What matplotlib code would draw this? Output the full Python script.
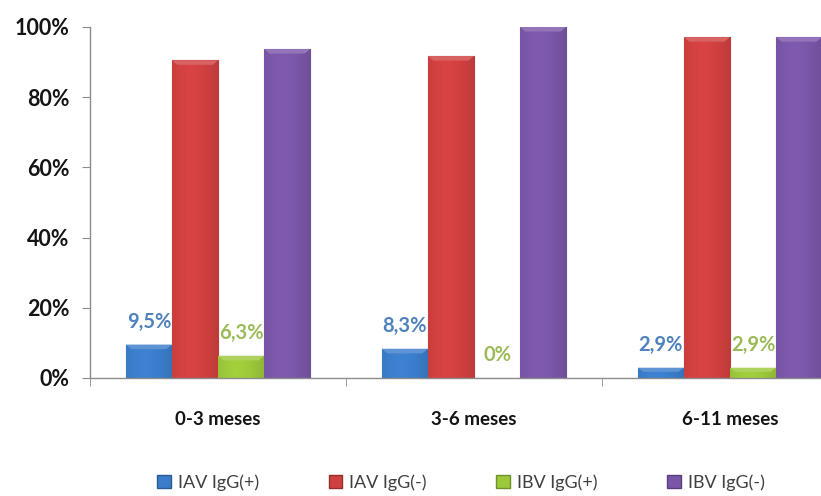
import numpy as np
import matplotlib
matplotlib.use("Agg")
import matplotlib.pyplot as plt
from matplotlib.patches import Patch, Polygon
from matplotlib.colors import to_rgb

categories = ["0-3 meses", "3-6 meses", "6-11 meses"]
series_names = ["IAV IgG(+)", "IAV IgG(-)", "IBV IgG(+)", "IBV IgG(-)"]
iav_pos = [9.5, 8.3, 2.9]
iav_neg = [90.5, 91.7, 97.1]
ibv_pos = [6.3, 0.0, 2.9]
ibv_neg = [93.7, 100.0, 97.1]
yticks = [0, 20, 40, 60, 80, 100]

values = [iav_pos, iav_neg, ibv_pos, ibv_neg]
colors = ["#3B7DCB", "#D04040", "#9CC83A", "#7B56A8"]
label_colors = {0: "#4F81BD", 2: "#9BBB59"}

plt.rcParams["font.family"] = ["Lato", "DejaVu Sans"]

fig = plt.figure(figsize=(8.21, 4.96), dpi=100)
ax = fig.add_axes([0.1096, 0.238, 0.9354, 0.7077])

x = np.arange(len(categories))
width = 0.18
offsets = (np.arange(4) - 1.5) * width


def shade(c, f):
    r, g, b = to_rgb(c)
    if f < 1:
        return (r * f, g * f, b * f)
    return tuple(v + (1 - v) * (f - 1) for v in (r, g, b))


for i, (vals, col) in enumerate(zip(values, colors)):
    bars = ax.bar(x + offsets[i], vals, width, color=col,
                  edgecolor=shade(col, 0.72), linewidth=0.8, zorder=2)
    # soft horizontal gradient inside each bar
    grad = np.linspace(0, 1, 64)
    prof = 1.04 - 0.3 * np.abs(grad - 0.4) ** 1.6
    base = np.array(to_rgb(col))
    img = np.clip(base[None, None, :] * prof[None, :, None], 0, 1)
    for b, v in zip(bars, vals):
        if v <= 0:
            continue
        x0 = b.get_x()
        im = ax.imshow(img, extent=[x0, x0 + width, 0, v], aspect="auto",
                       zorder=2.1, interpolation="bicubic")
        im.set_clip_path(b)
        # bevelled top edge
        bev = min(1.3, v * 0.4)
        inset = width * 0.12
        top = Polygon([(x0, v), (x0 + width, v), (x0 + width - inset, v - bev),
                       (x0 + inset, v - bev)], closed=True,
                      facecolor=shade(col, 1.18), edgecolor="none", zorder=2.2)
        ax.add_patch(top)
    if i in label_colors:
        for xi, v in zip(x + offsets[i], vals):
            txt = ("%g" % v).replace(".", ",") + "%"
            ax.annotate(txt, (xi, v), xytext=(0, 9), textcoords="offset points",
                        ha="center", va="bottom", fontsize=14.5,
                        fontweight="bold", color=label_colors[i], zorder=5)

ax.set_xlim(-0.5, len(categories) - 0.5)
ax.set_ylim(0, 100)
ax.set_yticks(yticks)
ax.set_yticklabels(["%d%%" % t for t in yticks])
ax.set_xticks(x)
ax.set_xticklabels(categories)
ax.set_xticks(np.arange(-0.5, len(categories) + 0.5, 1), minor=True)

for s in ["top", "right"]:
    ax.spines[s].set_visible(False)
for s in ["left", "bottom"]:
    ax.spines[s].set_color("#8C8C8C")
    ax.spines[s].set_linewidth(1.0)

ax.tick_params(axis="y", direction="out", length=6, color="#8C8C8C",
               labelsize=15.5, labelcolor="#141414", pad=9)
ax.tick_params(axis="x", which="major", length=0, labelsize=13.5,
               labelcolor="#141414", pad=24)
ax.tick_params(axis="x", which="minor", direction="out", length=6,
               color="#8C8C8C")
for lab in ax.get_yticklabels() + ax.get_xticklabels():
    lab.set_fontweight("bold")

handles = [Patch(facecolor=c, edgecolor=shade(c, 0.72)) for c in colors]
fig.legend(handles, series_names, loc="center", bbox_to_anchor=(0.5615, 0.027),
           ncol=4, frameon=False, fontsize=13, handlelength=0.75,
           handleheight=0.75, handletextpad=0.4, columnspacing=3.85,
           labelcolor="#404040")

fig.savefig("out.png", dpi=100)
